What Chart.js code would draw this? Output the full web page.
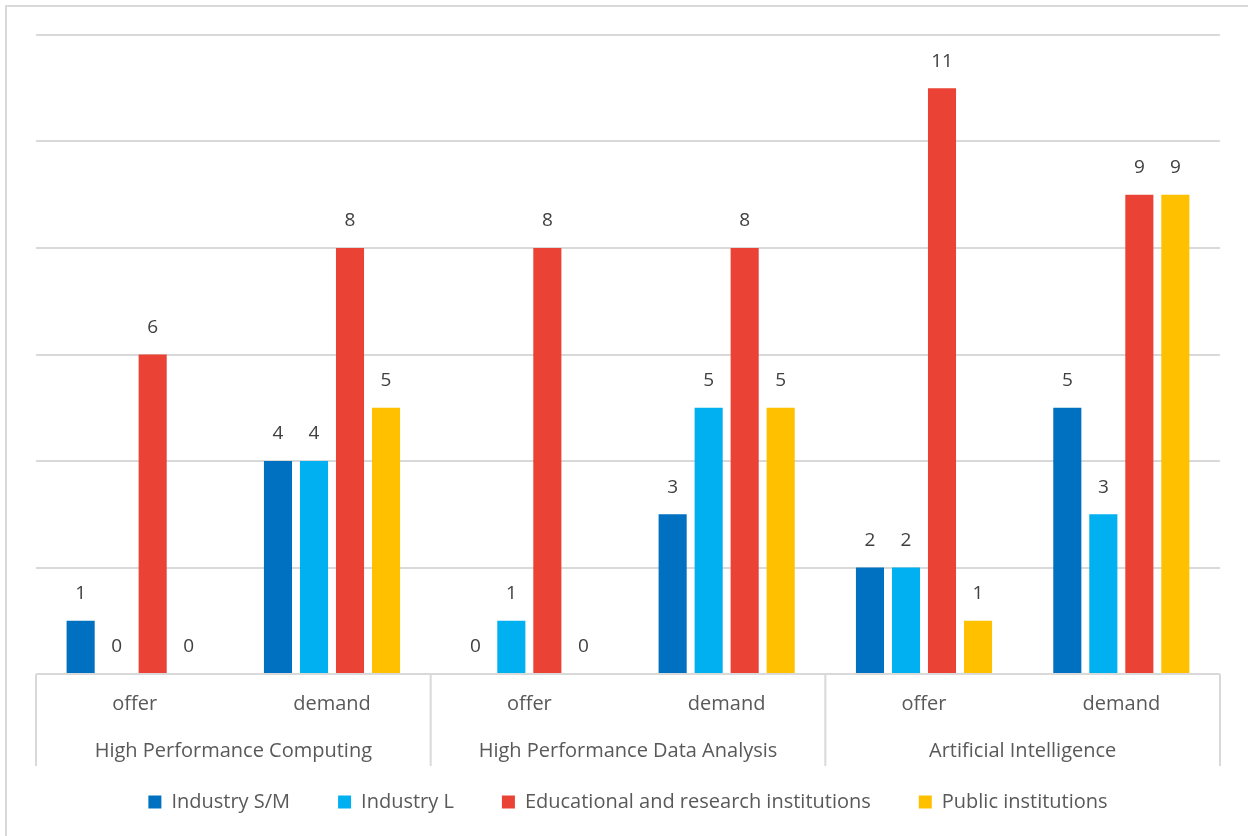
<!DOCTYPE html>
<html>
<head>
<meta charset="utf-8">
<script src="https://cdn.jsdelivr.net/npm/chart.js@4.4.1/dist/chart.umd.min.js"></script>
<style>
  html, body { margin: 0; padding: 0; background: #fff; overflow: hidden; }
  #wrap { position: absolute; left: 0; top: 0; width: 1248px; height: 836px; }
  #frame { position: absolute; left: 5px; top: 5px; width: 1280px; height: 880px; border: 2px solid #d9d9d9; }
</style>
</head>
<body>
<div id="frame"></div>
<div id="wrap"><canvas id="chart"></canvas></div>
<script>
const categories = ['offer', 'demand', 'offer', 'demand', 'offer', 'demand'];
const groups = ['High Performance Computing', 'High Performance Data Analysis', 'Artificial Intelligence'];
const seriesNames = ['Industry S/M', 'Industry L', 'Educational and research institutions', 'Public institutions'];
const industrySM = [1, 4, 0, 3, 2, 5];
const industryL = [0, 4, 1, 5, 2, 3];
const eduResearch = [6, 8, 8, 8, 11, 9];
const publicInst = [0, 5, 0, 5, 1, 9];

const colors = ['#0070c0', '#00b0f0', '#ea4335', '#ffc000'];
const fontFamily = "'Open Sans', 'Noto Sans', sans-serif";
const textColor = '#595959';

// value labels above every bar
const valueLabels = {
    id: 'valueLabels',
    afterDatasetsDraw(chart) {
        const ctx = chart.ctx;
        ctx.save();
        ctx.font = '19px ' + fontFamily;
        ctx.fillStyle = '#404040';
        ctx.textAlign = 'center';
        ctx.textBaseline = 'middle';
        chart.data.datasets.forEach((ds, i) => {
            chart.getDatasetMeta(i).data.forEach((bar, j) => {
                ctx.fillText(String(ds.data[j]), bar.x, bar.y - 27);
            });
        });
        ctx.restore();
    }
};

// two-level category axis with boxes
const groupAxis = {
    id: 'groupAxis',
    afterDraw(chart) {
        const ctx = chart.ctx;
        const xs = chart.scales.x;
        const area = chart.chartArea;
        const step = (xs.right - xs.left) / categories.length;
        const bottom = area.bottom + 92;
        ctx.save();
        ctx.strokeStyle = '#d9d9d9';
        ctx.lineWidth = 2;
        ctx.beginPath();
        ctx.moveTo(xs.left, area.bottom);
        ctx.lineTo(xs.right, area.bottom);
        for (let g = 0; g <= groups.length; g++) {
            const x = xs.left + g * 2 * step;
            ctx.moveTo(x, area.bottom);
            ctx.lineTo(x, bottom);
        }
        ctx.stroke();
        ctx.font = '20px ' + fontFamily;
        ctx.fillStyle = textColor;
        ctx.textAlign = 'center';
        ctx.textBaseline = 'middle';
        categories.forEach((c, i) => {
            ctx.fillText(c, xs.getPixelForValue(i), area.bottom + 30);
        });
        groups.forEach((g, i) => {
            const cx = (xs.getPixelForValue(2 * i) + xs.getPixelForValue(2 * i + 1)) / 2;
            ctx.fillText(g, cx, area.bottom + 77);
        });
        ctx.restore();
    }
};

new Chart(document.getElementById('chart'), {
    type: 'bar',
    data: {
        labels: categories,
        datasets: [industrySM, industryL, eduResearch, publicInst].map((d, i) => ({
            label: seriesNames[i],
            data: d,
            backgroundColor: colors[i],
            borderWidth: 0,
            barPercentage: 0.78,
            categoryPercentage: 0.73
        }))
    },
    options: {
        responsive: true,
        maintainAspectRatio: false,
        animation: false,
        layout: { padding: { left: 36, right: 28, top: 35, bottom: 14 } },
        plugins: {
            legend: {
                position: 'bottom',
                labels: {
                    boxWidth: 13,
                    boxHeight: 13,
                    padding: 48,
                    color: textColor,
                    font: { family: fontFamily, size: 20 }
                }
            },
            tooltip: { enabled: false }
        },
        scales: {
            y: {
                min: 0,
                max: 12,
                ticks: { stepSize: 2, display: false },
                grid: { color: '#d9d9d9', lineWidth: 2, drawTicks: false },
                border: { display: false }
            },
            x: {
                ticks: { display: false },
                grid: { display: false },
                border: { display: false },
                afterFit: (scale) => { scale.height = 70; }
            }
        }
    },
    plugins: [valueLabels, groupAxis]
});
</script>
</body>
</html>
